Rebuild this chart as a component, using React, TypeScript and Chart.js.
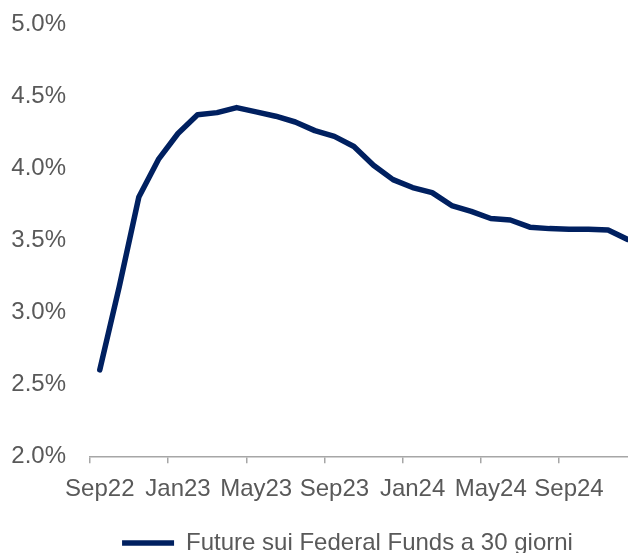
import { useEffect, useRef } from 'react';
import { Chart, registerables } from 'chart.js';

Chart.register(...registerables);

// Monthly categories (one point per month)
const months = [
  'Sep22', 'Oct22', 'Nov22', 'Dec22',
  'Jan23', 'Feb23', 'Mar23', 'Apr23', 'May23', 'Jun23', 'Jul23', 'Aug23', 'Sep23', 'Oct23', 'Nov23', 'Dec23',
  'Jan24', 'Feb24', 'Mar24', 'Apr24', 'May24', 'Jun24', 'Jul24', 'Aug24', 'Sep24', 'Oct24', 'Nov24', 'Dec24',
];

// Implied rate from 30-day Fed Funds futures (%)
const futuresRates = [
  2.60, 3.18, 3.80, 4.06,
  4.24, 4.37, 4.385, 4.42, 4.39, 4.36, 4.32, 4.26, 4.22, 4.15, 4.02, 3.92,
  3.865, 3.83, 3.74, 3.70, 3.65, 3.64, 3.59, 3.58, 3.575, 3.575, 3.57, 3.505,
];

const xTickMonths = ['Sep22', 'Jan23', 'May23', 'Sep23', 'Jan24', 'May24', 'Sep24'];
const yTickValues = [2.0, 2.5, 3.0, 3.5, 4.0, 4.5, 5.0];
const seriesLabel = 'Future sui Federal Funds a 30 giorni';

const FONT = "'Liberation Sans', Arial, sans-serif";
const TEXT = '#595959';
const AXIS = '#a6a6a6';
const NAVY = '#002060';

export default function App() {
  const ref = useRef<HTMLCanvasElement | null>(null);

  useEffect(() => {
    if (!ref.current) return;
    const chart = new Chart(ref.current, {
      type: 'line',
      data: {
        datasets: [
          {
            label: seriesLabel,
            data: futuresRates.map((v, i) => ({ x: i, y: v })),
            borderColor: NAVY,
            backgroundColor: NAVY,
            borderWidth: 5.5,
            borderCapStyle: 'round',
            borderJoinStyle: 'round',
            pointRadius: 0,
            tension: 0,
            fill: false,
          },
        ],
      },
      options: {
        responsive: false,
        animation: false,
        // negative right padding only widens the (full-size) legend band, so the legend sits right of centre
        layout: { padding: { left: 0, top: 24, right: -67, bottom: -12 } },
        plugins: {
          tooltip: { enabled: false },
          legend: {
            position: 'bottom',
            align: 'center',
            labels: {
              usePointStyle: true,
              pointStyle: 'line',
              pointStyleWidth: 52,
              padding: 10,
              color: TEXT,
              font: { family: FONT, size: 24 },
            },
          },
        },
        scales: {
          x: {
            type: 'linear',
            min: -0.5,
            max: 27.02,
            afterBuildTicks: (scale: any) => {
              scale.ticks = xTickMonths.map((m) => ({ value: months.indexOf(m) - 0.5 }));
            },
            afterFit: (scale: any) => {
              scale.height = 64.7;
            },
            grid: {
              display: true,
              drawOnChartArea: false,
              drawTicks: true,
              tickLength: 7,
              color: AXIS,
              lineWidth: 1.5,
            },
            border: { display: true, color: AXIS, width: 1.5 },
            ticks: {
              callback: (value: any) => months[Math.round(Number(value) + 0.5)] ?? '',
              labelOffset: 9.8,
              autoSkip: false,
              maxRotation: 0,
              minRotation: 0,
              padding: 11.3,
              color: TEXT,
              font: { family: FONT, size: 24 },
            },
          },
          y: {
            type: 'linear',
            min: 2,
            max: 5,
            afterBuildTicks: (scale: any) => {
              scale.ticks = yTickValues.map((v) => ({ value: v }));
            },
            afterFit: (scale: any) => {
              scale.width = 90;
            },
            // invisible tick marks provide the gap between labels and plot
            grid: { display: false, drawTicks: true, tickLength: 24 },
            border: { display: false },
            ticks: {
              callback: (value: any) => Number(value).toFixed(1) + '%',
              padding: 0,
              color: TEXT,
              font: { family: FONT, size: 24 },
            },
          },
        },
      },
    });
    return () => chart.destroy();
  }, []);

  return (
    <div style={{ position: 'fixed', left: 0, top: 0, width: 628, height: 553, background: '#fff' }}>
      <canvas ref={ref} width={628} height={553} style={{ display: 'block' }} />
    </div>
  );
}
